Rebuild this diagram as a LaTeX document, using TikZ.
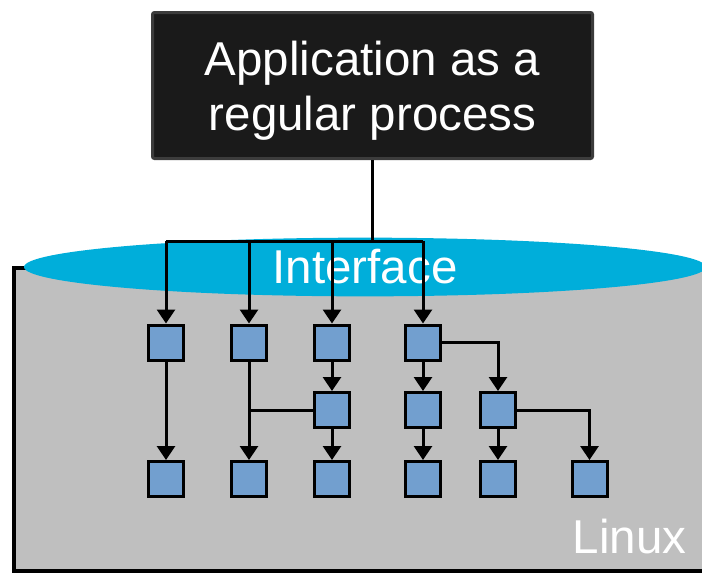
\documentclass[tikz,border=0pt]{standalone}
\usepackage{fontspec}
\setmainfont{Liberation Sans}
\usepackage{tikz}
\usetikzlibrary{positioning,arrows.meta,shapes.geometric}
\definecolor{azulproc}{RGB}{114,159,207}
\definecolor{cianiface}{RGB}{0,174,218}
\definecolor{grisbase}{RGB}{191,191,191}
\definecolor{negroapp}{RGB}{26,26,26}
\definecolor{bordeapp}{RGB}{60,60,60}
\tikzset{arista/.style={line width=3pt}}
\tikzset{flecha/.style={arista,-{Triangle[width=18pt,length=14pt]}}}
\tikzset{bloque/.style={draw,line width=3pt,fill=azulproc,minimum size=35pt,inner sep=0pt}}
\tikzset{texto/.style={text=white,font=\fontsize{47.5}{55}\selectfont}}

\begin{document}
\begin{tikzpicture}[x=1pt,y=-1pt]
            \useasboundingbox (0,0) rectangle (702,574);
            \clip (0,0) rectangle (702,574);
            % base del sistema
            \draw[line width=4pt, fill=grisbase] (13.5,268) rectangle (760,571);
            \node[ellipse, fill=cianiface, minimum width=682, minimum height=54, texto] (iface) at (365,267) {Interface};
            \node[texto] (linux) at (629.5,537) {Linux};

            \node[draw=bordeapp, fill=negroapp, line width=3pt, rounded corners=2pt, minimum width=440, minimum height=146, align=center, text depth=0pt, texto] (app) at (372.5,85.5) {Application as a\\regular process};

            % procesos
            \node[bloque] (a1) at (166,342.5) {};
            \node[bloque, right= 45pt of a1] (a2) {};
            \node[bloque, right= 45pt of a2] (a3) {};
            \node[bloque, right= 53pt of a3] (a4) {};
            \node[bloque, below= 29.5pt of a3] (b3) {};
            \node[bloque, below= 29.5pt of a4] (b4) {};
            \node[bloque, right= 37pt of b4] (b5) {};
            \node[bloque, below= 31pt of b3] (c3) {};
            \node[bloque, below= 31pt of b4] (c4) {};
            \node[bloque, below= 31pt of b5] (c5) {};
            \node[bloque, right= 53.5pt of c5] (c6) {};
            \node[bloque] (c1) at (a1 |- c3) {};
            \node[bloque] (c2) at (a2 |- c3) {};

            \coordinate (bus) at (372.5,241);
            \draw[arista] (app.south) -- (bus);
            \draw[arista] (bus -| a1) -- (bus -| a4);
            \foreach \n in {a1,a2,a3,a4}
                \draw[flecha] (bus -| \n) -- (\n);

            \draw[flecha] (a1) -- (c1);
            \draw[flecha] (a2) -- (c2);
            \draw[arista] (b3) -- (b3 -| a2);
            \draw[flecha] (a3) -- (b3);
            \draw[flecha] (b3) -- (c3);
            \draw[flecha] (a4) -- (b4);
            \draw[flecha] (b4) -- (c4);
            \draw[flecha] (a4.east) -| (b5);
            \draw[flecha] (b5) -- (c5);
            \draw[flecha] (b5.east) -| (c6);
        \end{tikzpicture}
\end{document}
